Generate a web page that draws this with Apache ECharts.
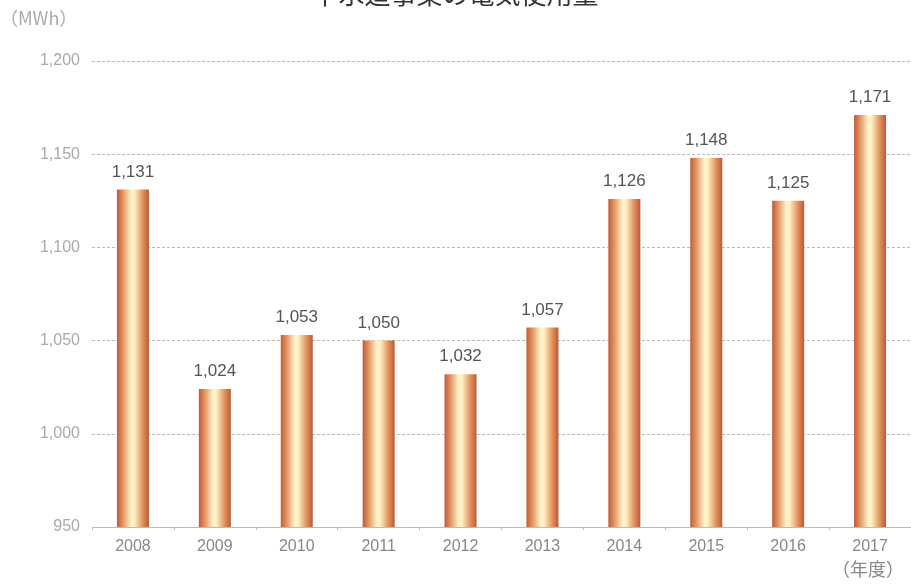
<!DOCTYPE html>
<html><head><meta charset="utf-8">
<script src="https://cdn.jsdelivr.net/npm/echarts@6/dist/echarts.min.js"></script>
<style>html,body{margin:0;padding:0;background:#fff}#c{width:911px;height:586px}</style>
</head><body><div id="c"></div>
<script>
const categories = ['2008','2009','2010','2011','2012','2013','2014','2015','2016','2017'];
const values = [1131,1024,1053,1050,1032,1057,1126,1148,1125,1171];
const titleText = '下水道事業の電気使用量';
const unitText = '（MWh）';
const yearText = '（年度）';

const chart = echarts.init(document.getElementById('c'));
chart.setOption({
  animation:false,
  title:{text:titleText,left:'center',top:-24,textStyle:{fontFamily:'Noto Sans CJK JP',fontSize:26,fontWeight:'normal',color:'#333'}},
  graphic:[
    {type:'text',left:0,top:9,style:{text:unitText,fontFamily:'Noto Sans CJK JP',fontSize:18,fill:'#aaa'}},
    {type:'text',left:832,top:560,style:{text:yearText,fontFamily:'Noto Sans CJK JP',fontSize:18,fill:'#888'}}
  ],
  grid:{left:92,right:-3,top:61,bottom:59},
  xAxis:{type:'category',data:categories,
    axisLine:{lineStyle:{color:'#bbb'}},axisTick:{show:true,alignWithLabel:false,lineStyle:{color:'#bbb'},length:3},
    axisLabel:{color:'#888',fontSize:16,fontFamily:'Liberation Sans',margin:12}},
  yAxis:{type:'value',min:950,max:1200,interval:50,
    axisLine:{show:false},axisTick:{show:false},
    splitLine:{lineStyle:{color:'#bbb',type:[3,2],width:1}},
    axisLabel:{color:'#aaa',fontSize:16,fontFamily:'Liberation Sans',margin:12,
      formatter:v=>v.toLocaleString('en-US')}},
  series:[{type:'bar',data:values,barWidth:32,
    itemStyle:{color:new echarts.graphic.LinearGradient(0,0,1,0,[
      {offset:0,color:'#c25a38'},{offset:0.2,color:'#e49a66'},{offset:0.45,color:'#fff4cc'},{offset:0.55,color:'#ffefc0'},{offset:0.8,color:'#e09460'},{offset:1,color:'#be5836'}])},
    label:{show:true,position:'top',distance:9,color:'#555',fontSize:17,fontFamily:'Liberation Sans',
      formatter:p=>p.value.toLocaleString('en-US')}}]
});
</script></body></html>
